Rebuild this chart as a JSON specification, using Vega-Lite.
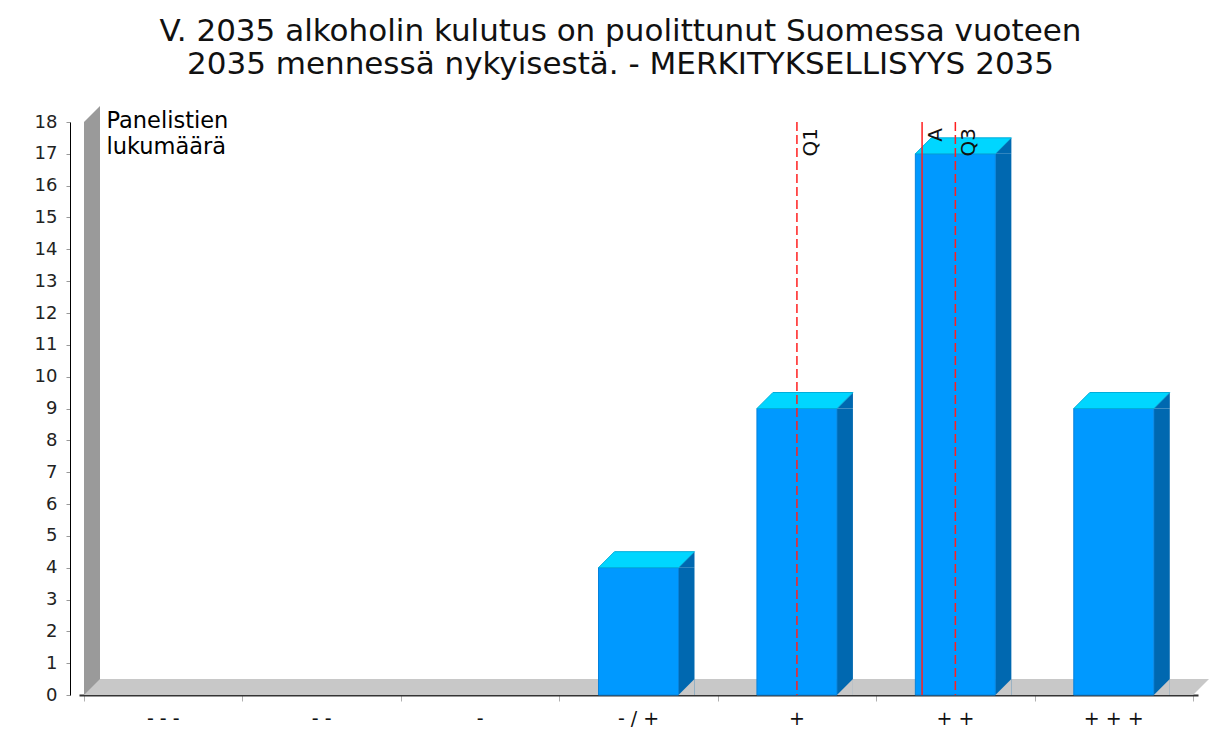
{
  "$schema": "https://vega.github.io/schema/vega-lite/v6.json",
  "autosize": {"type": "none"},
  "padding": {"left": 79, "top": 122, "right": 28, "bottom": 42},
  "width": 1119,
  "height": 573,
  "background": "white",
  "config": {"view": {"stroke": null}, "font": "DejaVu Sans", "axis": {"labelOverlap": false}, "axisY": {"labelOverlap": false}, "axisQuantitative": {"labelOverlap": false}},
  "title": {
    "text": ["V. 2035 alkoholin kulutus on puolittunut Suomessa vuoteen", "2035 mennessä nykyisestä. - MERKITYKSELLISYYS 2035"],
    "font": "DejaVu Sans", "fontSize": 31, "fontWeight": "normal", "color": "#111",
    "lineHeight": 33, "anchor": "middle", "frame": "group", "dx": -18, "offset": 25
  },
  "datasets": {
    "bars": [
      {"cat": "- - -", "pos": 1, "n": 0},
      {"cat": "- -", "pos": 2, "n": 0},
      {"cat": "-", "pos": 3, "n": 0},
      {"cat": "- / +", "pos": 4, "n": 4},
      {"cat": "+", "pos": 5, "n": 9},
      {"cat": "+ +", "pos": 6, "n": 17},
      {"cat": "+ + +", "pos": 7, "n": 9}
    ],
    "stats": [
      {"stat": "Q1", "value": 5},
      {"stat": "A", "value": 5.79},
      {"stat": "Q3", "value": 6}
    ],
    "frame": [{}]
  },
  "layer": [
    {
      "data": {"name": "frame"},
      "mark": {"type": "rule", "color": "#c8c8c8", "strokeWidth": 16, "yOffset": -8},
      "encoding": {
        "x": {"datum": 0.5, "type": "quantitative"},
        "x2": {"datum": 7.5},
        "y": {"datum": 0, "type": "quantitative", "axis": {"values": [0,1,2,3,4,5,6,7,8,9,10,11,12,13,14,15,16,17,18], "labelOverlap": false}}
      }
    },
    {
      "data": {"name": "frame"},
      "mark": {"type": "point", "shape": "M0,0L16,-16L0,-16Z", "size": 4, "filled": true, "opacity": 1, "fill": "#c8c8c8", "strokeWidth": 0},
      "encoding": {
        "x": {"datum": 7.5, "type": "quantitative"},
        "y": {"datum": 0, "type": "quantitative", "axis": {"values": [0,1,2,3,4,5,6,7,8,9,10,11,12,13,14,15,16,17,18], "labelOverlap": false}}
      }
    },
    {
      "data": {"name": "frame"},
      "mark": {"type": "rule", "color": "#9a9a9a", "strokeWidth": 16, "xOffset": 8},
      "encoding": {
        "x": {"datum": 0.5, "type": "quantitative"},
        "y": {"datum": 18, "type": "quantitative", "axis": {"values": [0,1,2,3,4,5,6,7,8,9,10,11,12,13,14,15,16,17,18], "labelOverlap": false}},
        "y2": {"datum": 0}
      }
    },
    {
      "data": {"name": "frame"},
      "mark": {"type": "point", "shape": "M0,0L16,-16L16,0Z", "size": 4, "filled": true, "opacity": 1, "fill": "#9a9a9a", "strokeWidth": 0},
      "encoding": {
        "x": {"datum": 0.5, "type": "quantitative"},
        "y": {"datum": 18, "type": "quantitative", "axis": {"values": [0,1,2,3,4,5,6,7,8,9,10,11,12,13,14,15,16,17,18], "labelOverlap": false}}
      }
    },
    {
      "data": {"name": "frame"},
      "mark": {"type": "point", "shape": "M0,0L16,-16L16,0Z", "size": 4, "filled": true, "opacity": 1, "fill": "#c8c8c8", "strokeWidth": 0},
      "encoding": {
        "x": {"datum": 0.5, "type": "quantitative"},
        "y": {"datum": 0, "type": "quantitative", "axis": {"values": [0,1,2,3,4,5,6,7,8,9,10,11,12,13,14,15,16,17,18], "labelOverlap": false}}
      }
    },
    {
      "data": {"name": "bars"},
      "transform": [{"filter": "datum.n > 0"}],
      "mark": {"type": "bar", "orient": "vertical", "size": 16, "xOffset": 48, "color": "#0068b0"},
      "encoding": {
        "x": {"field": "pos", "type": "quantitative"},
        "y": {"field": "n", "type": "quantitative", "axis": {"values": [0,1,2,3,4,5,6,7,8,9,10,11,12,13,14,15,16,17,18], "labelOverlap": false}}
      }
    },
    {
      "data": {"name": "bars"},
      "transform": [{"filter": "datum.n > 0"}],
      "mark": {"type": "bar", "orient": "vertical", "size": 80, "color": "#0099ff", "stroke": "#0682dc", "strokeWidth": 1},
      "encoding": {
        "x": {"field": "pos", "type": "quantitative", "scale": {"domain": [0.5, 7.5], "nice": false, "zero": false},
          "axis": {"values": [0.5, 1.5, 2.5, 3.5, 4.5, 5.5, 6.5, 7.5], "labels": false, "title": null, "grid": false,
            "tickSize": 6, "tickColor": "#b0b0b0", "domainColor": "#333", "domainWidth": 2}},
        "y": {"field": "n", "type": "quantitative", "scale": {"domain": [0, 18], "nice": false, "zero": false},
          "axis": {"values": [0,1,2,3,4,5,6,7,8,9,10,11,12,13,14,15,16,17,18], "grid": false, "offset": 9,
            "labelOverlap": false, "labelFlush": false,
            "tickSize": 4, "tickColor": "#999", "domainColor": "#000", "domainWidth": 1,
            "labelFont": "DejaVu Sans", "labelFontSize": 18, "labelColor": "#222", "labelPadding": 9,
            "title": ["Panelistien", "lukumäärä"], "titleAngle": 0, "titleAlign": "left", "titleBaseline": "alphabetic",
            "titleX": 36, "titleY": 5, "titleFont": "DejaVu Sans", "titleFontSize": 22.5, "titleFontWeight": "normal",
            "titleColor": "#000", "titleLineHeight": 26}}
      }
    },
    {
      "data": {"name": "bars"},
      "transform": [{"filter": "datum.n > 0"}],
      "mark": {"type": "point", "shape": "M40,0L56,-16L56,0Z", "size": 4, "filled": true, "opacity": 1, "fill": "#0068b0", "strokeWidth": 0},
      "encoding": {
        "x": {"field": "pos", "type": "quantitative"},
        "y": {"field": "n", "type": "quantitative", "axis": {"values": [0,1,2,3,4,5,6,7,8,9,10,11,12,13,14,15,16,17,18], "labelOverlap": false}}
      }
    },
    {
      "data": {"name": "bars"},
      "transform": [{"filter": "datum.n > 0"}],
      "mark": {"type": "point", "shape": "M-40,0L40,0L56,-16L-24,-16Z", "size": 4, "filled": true, "opacity": 1, "fill": "#00d6ff", "stroke": "#00aedb", "strokeWidth": 1},
      "encoding": {
        "x": {"field": "pos", "type": "quantitative"},
        "y": {"field": "n", "type": "quantitative", "axis": {"values": [0,1,2,3,4,5,6,7,8,9,10,11,12,13,14,15,16,17,18], "labelOverlap": false}}
      }
    },
    {
      "data": {"name": "bars"},
      "transform": [{"filter": "datum.n > 0"}],
      "mark": {"type": "point", "shape": "M40,0L56,0L56,-16Z", "size": 4, "filled": true, "opacity": 1, "fill": "#c8c8c8", "strokeWidth": 0},
      "encoding": {
        "x": {"field": "pos", "type": "quantitative"},
        "y": {"datum": 0, "type": "quantitative", "axis": {"values": [0,1,2,3,4,5,6,7,8,9,10,11,12,13,14,15,16,17,18], "labelOverlap": false}}
      }
    },
    {
      "data": {"name": "stats"},
      "mark": {"type": "rule", "color": "#ff1f1f", "strokeWidth": 1.5},
      "encoding": {
        "x": {"field": "value", "type": "quantitative"},
        "y": {"datum": 18, "type": "quantitative", "axis": {"values": [0,1,2,3,4,5,6,7,8,9,10,11,12,13,14,15,16,17,18], "labelOverlap": false}},
        "y2": {"datum": 0},
        "strokeDash": {"field": "stat", "type": "nominal", "scale": {"domain": ["Q1", "A", "Q3"], "range": [[9, 4], [1, 0], [9, 4]]}, "legend": null}
      }
    },
    {
      "data": {"name": "stats"},
      "mark": {"type": "text", "angle": 270, "align": "right", "baseline": "top", "xOffset": 4, "yOffset": 6, "font": "DejaVu Sans", "fontSize": 20, "color": "#111"},
      "encoding": {
        "x": {"field": "value", "type": "quantitative"},
        "y": {"datum": 18, "type": "quantitative", "axis": {"values": [0,1,2,3,4,5,6,7,8,9,10,11,12,13,14,15,16,17,18], "labelOverlap": false}},
        "text": {"field": "stat"}
      }
    },
    {
      "data": {"name": "bars"},
      "mark": {"type": "text", "baseline": "middle", "align": "center", "yOffset": 24, "font": "DejaVu Sans", "fontSize": 19, "color": "#111"},
      "encoding": {
        "x": {"field": "pos", "type": "quantitative"},
        "y": {"datum": 0, "type": "quantitative", "axis": {"values": [0,1,2,3,4,5,6,7,8,9,10,11,12,13,14,15,16,17,18], "labelOverlap": false}},
        "text": {"field": "cat"}
      }
    }
  ]
}
